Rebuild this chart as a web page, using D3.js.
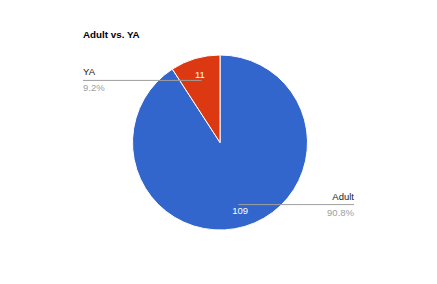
<!DOCTYPE html>
<html>
<head>
<meta charset="utf-8">
<script src="https://cdn.jsdelivr.net/npm/d3@7"></script>
<style>
  html, body { margin: 0; padding: 0; background: #fff; }
  svg { display: block; font-family: "Liberation Sans", Arial, sans-serif; }
</style>
</head>
<body>
<svg id="chart" width="437" height="284"></svg>
<script>
const title = "Adult vs. YA";
const categories = ["Adult", "YA"];
const values = [109, 11];
const colors = ["#3366cc", "#dc3912"];

const width = 437, height = 284;
const cx = 220, cy = 142.5, radius = 87.5;

const svg = d3.select("#chart");

svg.append("text")
  .attr("x", 83)
  .attr("y", 37.5)
  .attr("font-size", 9.8)
  .attr("font-weight", "bold")
  .attr("fill", "#000")
  .text(title);

const data = categories.map((c, i) => ({ name: c, value: values[i], color: colors[i] }));
const total = d3.sum(values);

const pie = d3.pie().sort(null).value((d) => d.value);
const arcs = pie(data);

const arc = d3.arc().innerRadius(0).outerRadius(radius);
const labelArc = d3.arc().innerRadius(radius * 0.81).outerRadius(radius * 0.81);
const lineArc = d3.arc().innerRadius(radius * 0.74).outerRadius(radius * 0.74);

const g = svg.append("g").attr("transform", `translate(${cx},${cy})`);

g.selectAll("path")
  .data(arcs)
  .join("path")
  .attr("d", arc)
  .attr("fill", (d) => d.data.color)
  .attr("stroke", "#fff")
  .attr("stroke-width", 1);

// leader lines + outside labels
const leftX = 83 - cx, rightX = 354 - cx;
arcs.forEach((d) => {
  const [lx, ly] = lineArc.centroid(d);
  const onRight = lx > 0;
  const ex = onRight ? rightX : leftX;
  const pct = (d.value / total * 100).toFixed(1) + "%";
  g.append("line")
    .attr("x1", lx).attr("y1", ly)
    .attr("x2", ex).attr("y2", ly)
    .attr("stroke", "#9e9e9e")
    .attr("stroke-width", 1);
  g.append("text")
    .attr("x", ex).attr("y", ly - 5)
    .attr("text-anchor", onRight ? "end" : "start")
    .attr("font-size", 9.5)
    .attr("fill", "#222")
    .text(d.data.name);
  g.append("text")
    .attr("x", ex).attr("y", ly + 11)
    .attr("text-anchor", onRight ? "end" : "start")
    .attr("font-size", 9.5)
    .attr("fill", "#9e9e9e")
    .text(pct);
});

g.selectAll("text.val")
  .data(arcs)
  .join("text")
  .attr("class", "val")
  .attr("transform", (d) => `translate(${labelArc.centroid(d)})`)
  .attr("text-anchor", "middle")
  .attr("dy", "0.35em")
  .attr("font-size", 9.5)
  .attr("fill", "#fff")
  .text((d) => d.value);
</script>
</body>
</html>
